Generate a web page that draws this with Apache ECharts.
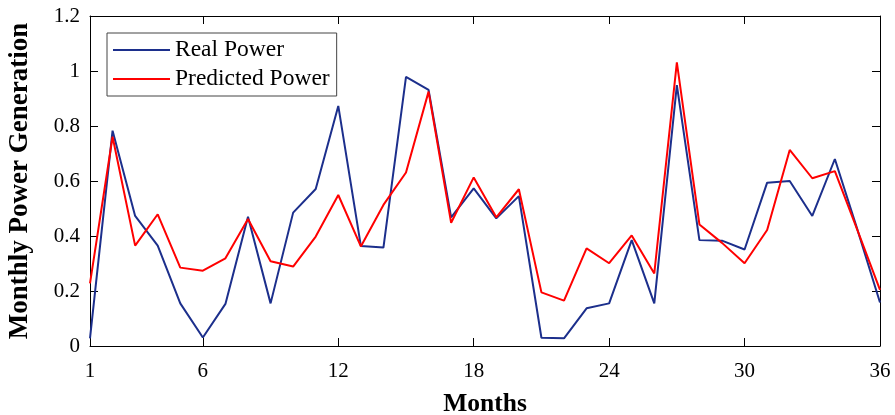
<!DOCTYPE html>
<html>
<head>
<meta charset="utf-8">
<script src="https://cdn.jsdelivr.net/npm/echarts@6/dist/echarts.min.js"></script>
<style>
html,body{margin:0;padding:0;background:#fff;}
#chart{width:895px;height:415px;}
</style>
</head>
<body>
<div id="chart"></div>
<script>
const months = ['1','2','3','4','5','6','7','8','9','10','11','12','13','14','15','16','17','18','19','20','21','22','23','24','25','26','27','28','29','30','31','32','33','34','35','36'];
const xTickLabels = ['1','6','12','18','24','30','36'];
const realPower = [0.028, 0.783, 0.473, 0.365, 0.155, 0.031, 0.153, 0.470, 0.155, 0.485, 0.571, 0.873, 0.364, 0.358, 0.979, 0.931, 0.468, 0.573, 0.464, 0.545, 0.030, 0.028, 0.137, 0.155, 0.385, 0.155, 0.949, 0.385, 0.383, 0.351, 0.594, 0.600, 0.473, 0.680, 0.423, 0.158];
const predictedPower = [0.228, 0.761, 0.365, 0.479, 0.285, 0.274, 0.319, 0.462, 0.308, 0.289, 0.398, 0.549, 0.362, 0.513, 0.631, 0.925, 0.448, 0.613, 0.468, 0.570, 0.195, 0.165, 0.355, 0.301, 0.402, 0.264, 1.031, 0.442, 0.375, 0.301, 0.422, 0.713, 0.610, 0.636, 0.421, 0.204];

const FONT = '"Liberation Serif", "Times New Roman", serif';
const showTick = (idx) => xTickLabels.indexOf(months[idx]) >= 0;

const chart = echarts.init(document.getElementById('chart'), null, {renderer: 'canvas'});
const axisLine = {show: true, onZero: false, lineStyle: {color: '#000', width: 1}};
const option = {
  animation: false,
  backgroundColor: '#fff',
  grid: {left: 90, right: 15, top: 16, bottom: 69, containLabel: false, outerBoundsMode: 'none',
         show: false},
  legend: {
    left: 107, top: 33,
    orient: 'vertical',
    backgroundColor: '#fff',
    borderColor: '#444', borderWidth: 1, borderRadius: 0,
    padding: [5, 7, 5, 6],
    itemGap: 5,
    itemWidth: 57, itemHeight: 2,
    icon: 'rect',
    textStyle: {fontFamily: FONT, fontSize: 23.5, color: '#000', lineHeight: 23},
    data: ['Real Power', 'Predicted Power']
  },
  xAxis: [
    {
      type: 'category', data: months, boundaryGap: false, position: 'bottom',
      axisLine: axisLine,
      axisTick: {show: true, inside: true, length: 8, interval: (i) => showTick(i), lineStyle: {color: '#000'}},
      axisLabel: {interval: (i) => showTick(i), fontFamily: FONT, fontSize: 21, color: '#000', margin: 15},
      splitLine: {show: false},
      name: 'Months', nameLocation: 'middle', nameGap: 45,
      nameTextStyle: {fontFamily: FONT, fontSize: 25.5, fontWeight: 'bold', color: '#000'}
    },
    {
      type: 'category', data: months, boundaryGap: false, position: 'top',
      axisLine: axisLine,
      axisTick: {show: true, inside: true, length: 8, interval: (i) => showTick(i), lineStyle: {color: '#000'}},
      axisLabel: {show: false},
      splitLine: {show: false}
    }
  ],
  yAxis: [
    {
      type: 'value', min: 0, max: 1.2, interval: 0.2, position: 'left',
      axisLine: axisLine,
      axisTick: {show: true, inside: true, length: 8, lineStyle: {color: '#000'}},
      axisLabel: {fontFamily: FONT, fontSize: 21, color: '#000', margin: 10},
      splitLine: {show: false},
      name: 'Monthly Power Generation', nameLocation: 'middle', nameGap: 56,
      nameTextStyle: {fontFamily: FONT, fontSize: 27, fontWeight: 'bold', color: '#000'}
    },
    {
      type: 'value', min: 0, max: 1.2, interval: 0.2, position: 'right',
      axisLine: axisLine,
      axisTick: {show: true, inside: true, length: 8, lineStyle: {color: '#000'}},
      axisLabel: {show: false},
      splitLine: {show: false}
    }
  ],
  series: [
    {
      name: 'Real Power', type: 'line', data: realPower, xAxisIndex: 0, yAxisIndex: 0,
      symbol: 'none', lineStyle: {color: '#1c2f8c', width: 2}, itemStyle: {color: '#1c2f8c'}
    },
    {
      name: 'Predicted Power', type: 'line', data: predictedPower, xAxisIndex: 0, yAxisIndex: 0,
      symbol: 'none', lineStyle: {color: '#ff0000', width: 2}, itemStyle: {color: '#ff0000'}
    },
    {
      name: 'axes', type: 'line', data: [], xAxisIndex: 1, yAxisIndex: 1, symbol: 'none', silent: true
    }
  ]
};
chart.setOption(option);
</script>
</body>
</html>
